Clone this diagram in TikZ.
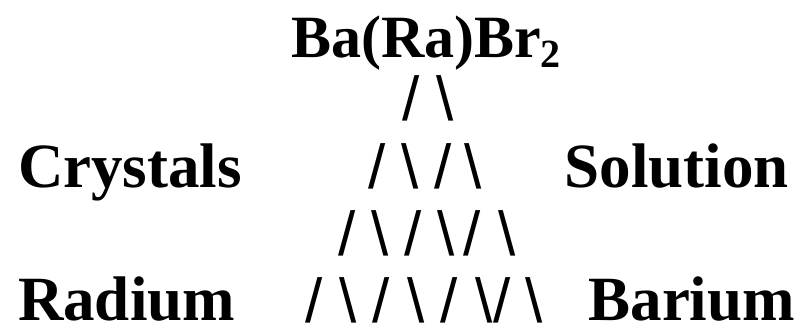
\documentclass[tikz,border=0pt]{standalone}
\usepackage{fontspec}
\setmainfont{Liberation Serif}
\newfontfamily\slfont{Liberation Sans}
\newcommand\fsl{/}
\newcommand\bsl{\textbackslash}
\newcommand\gap[1]{\kern#1pt\relax}
\begin{document}
\begin{tikzpicture}[x=1pt,y=-1pt,
  word/.style={font=\fontsize{63}{63}\selectfont\bfseries, inner sep=0pt, outer sep=0pt},
  titlestyle/.style={font=\fontsize{60}{60}\selectfont\bfseries, inner sep=0pt, outer sep=0pt},
  slashes/.style={font=\slfont\mdseries\fontsize{62}{62}\selectfont, inner sep=0pt, outer sep=0pt, anchor=base west},
  lastrow/.style={text depth=0pt}]
\useasboundingbox (0,0) rectangle (808,328);
\node[titlestyle, anchor=base west] (title) at (291,58) {Ba(Ra)Br\raisebox{-10pt}{\fontsize{40}{40}\selectfont 2}};
\node[slashes] (r2) at (402,121) {\fsl\gap{17.5}\bsl};
\node[slashes] (r3) at (368,189) {\fsl\gap{16.5}\bsl\gap{15.5}\fsl\gap{12.5}\bsl};
\node[slashes] (r4) at (338,256) {\fsl\gap{16.5}\bsl\gap{15.5}\fsl\gap{15.5}\bsl\gap{9.5}\fsl\gap{17.5}\bsl};
\node[slashes, lastrow] (r5) at (305,323) {\fsl\gap{17.5}\bsl\gap{15.5}\fsl\gap{17.5}\bsl\gap{16.5}\fsl\gap{17.5}\bsl\gap{0.5}\fsl\gap{14.5}\bsl};
\node[word, anchor=base west] (crystals) at (18,188) {Crystals};
\node[word, anchor=base east] (solution) at (789,188) {Solution};
\node[word, lastrow, anchor=base west] (radium) at (18,321) {Radium};
\node[word, lastrow, anchor=base east] (barium) at (795,321) {Barium};
\end{tikzpicture}
\end{document}
